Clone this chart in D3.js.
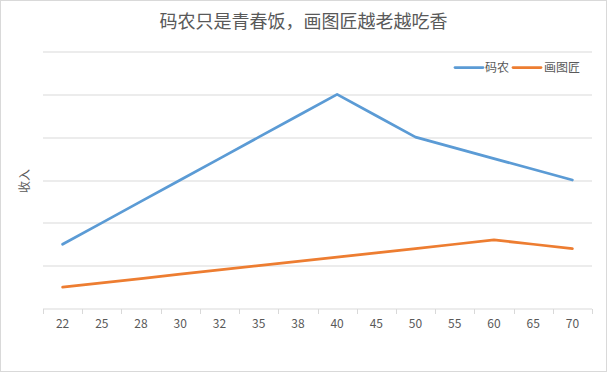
<!DOCTYPE html>
<html>
<head>
<meta charset="utf-8">
<script src="https://cdn.jsdelivr.net/npm/d3@7"></script>
<style>
  body { margin: 0; background: #fff; }
  text { font-family: "Noto Sans CJK SC", "Microsoft YaHei", sans-serif; }
</style>
</head>
<body>
<svg width="607" height="372"></svg>
<script>
const ages = ["22", "25", "28", "30", "32", "35", "38", "40", "45", "50", "55", "60", "65", "70"];
const coder = [7500, 10000, 12500, 15000, 17500, 20000, 22500, 25000, 22500, 20000, 18750, 17500, 16250, 15000];
const drawer = [2500, 3000, 3500, 4000, 4500, 5000, 5500, 6000, 6500, 7000, 7500, 8000, 7500, 7000];
const gridTicks = [0, 5000, 10000, 15000, 20000, 25000, 30000];
const seriesNames = ["码农", "画图匠"];
const colors = ["#5b9bd5", "#ed7d31"];

const svg = d3.select("svg");
const margin = { top: 51.5, right: 15, bottom: 63.5, left: 43 };
const width = 607 - margin.left - margin.right;
const height = 372 - margin.top - margin.bottom;

svg.append("rect")
  .attr("x", 0.5).attr("y", 0.5)
  .attr("width", 606).attr("height", 371)
  .attr("fill", "#fff")
  .attr("stroke", "#d9d9d9");

svg.append("text")
  .attr("x", 303.5)
  .attr("y", 28)
  .attr("text-anchor", "middle")
  .attr("font-size", 18)
  .attr("fill", "#595959")
  .text("码农只是青春饭，画图匠越老越吃香");

const g = svg.append("g")
  .attr("transform", `translate(${margin.left},${margin.top})`);

const x = d3.scaleBand().domain(ages).range([0, width]);
const y = d3.scaleLinear().domain([0, 30000]).range([height, 0]);

// gridlines
g.append("g")
  .selectAll("line")
  .data(gridTicks.slice(1))
  .join("line")
  .attr("x1", 0)
  .attr("x2", width)
  .attr("y1", (d) => Math.round(y(d)) + 0.5)
  .attr("y2", (d) => Math.round(y(d)) + 0.5)
  .attr("stroke", "#d9d9d9")
  .attr("stroke-width", 1);

// x axis with ticks at band edges
const xAxis = g.append("g")
  .attr("transform", `translate(0,${Math.round(height) + 0.5})`);
xAxis.append("line")
  .attr("x1", 0).attr("x2", width)
  .attr("stroke", "#d9d9d9");
xAxis.selectAll(".tick")
  .data(ages.concat(["end"]))
  .join("line")
  .attr("class", "tick")
  .attr("x1", (d, i) => Math.round(i * x.step()) + 0.5)
  .attr("x2", (d, i) => Math.round(i * x.step()) + 0.5)
  .attr("y1", 0)
  .attr("y2", 5)
  .attr("stroke", "#d9d9d9");
xAxis.selectAll(".lbl")
  .data(ages)
  .join("text")
  .attr("class", "lbl")
  .attr("x", (d) => x(d) + x.bandwidth() / 2)
  .attr("y", 19)
  .attr("text-anchor", "middle")
  .attr("font-size", 12)
  .attr("fill", "#595959")
  .text((d) => d);

// y axis title
svg.append("text")
  .attr("transform", "translate(29,181) rotate(-90)")
  .attr("text-anchor", "middle")
  .attr("font-size", 12)
  .attr("fill", "#595959")
  .text("收入");

const line = d3.line()
  .x((d, i) => x(ages[i]) + x.bandwidth() / 2)
  .y((d) => y(d));

[coder, drawer].forEach((s, k) => {
  g.append("path")
    .datum(s)
    .attr("fill", "none")
    .attr("stroke", colors[k])
    .attr("stroke-width", 2.75)
    .attr("stroke-linejoin", "round")
    .attr("stroke-linecap", "round")
    .attr("d", line);
});

// legend
const legend = svg.append("g");
const legendItems = [
  { x: 455, tx: 485 },
  { x: 513, tx: 544 }
];
seriesNames.forEach((name, k) => {
  legend.append("line")
    .attr("x1", legendItems[k].x)
    .attr("x2", legendItems[k].x + 28)
    .attr("y1", 67.5).attr("y2", 67.5)
    .attr("stroke", colors[k])
    .attr("stroke-width", 2.75)
    .attr("stroke-linecap", "round");
  legend.append("text")
    .attr("x", legendItems[k].tx)
    .attr("y", 72)
    .attr("font-size", 12)
    .attr("fill", "#595959")
    .text(name);
});
</script>
</body>
</html>
